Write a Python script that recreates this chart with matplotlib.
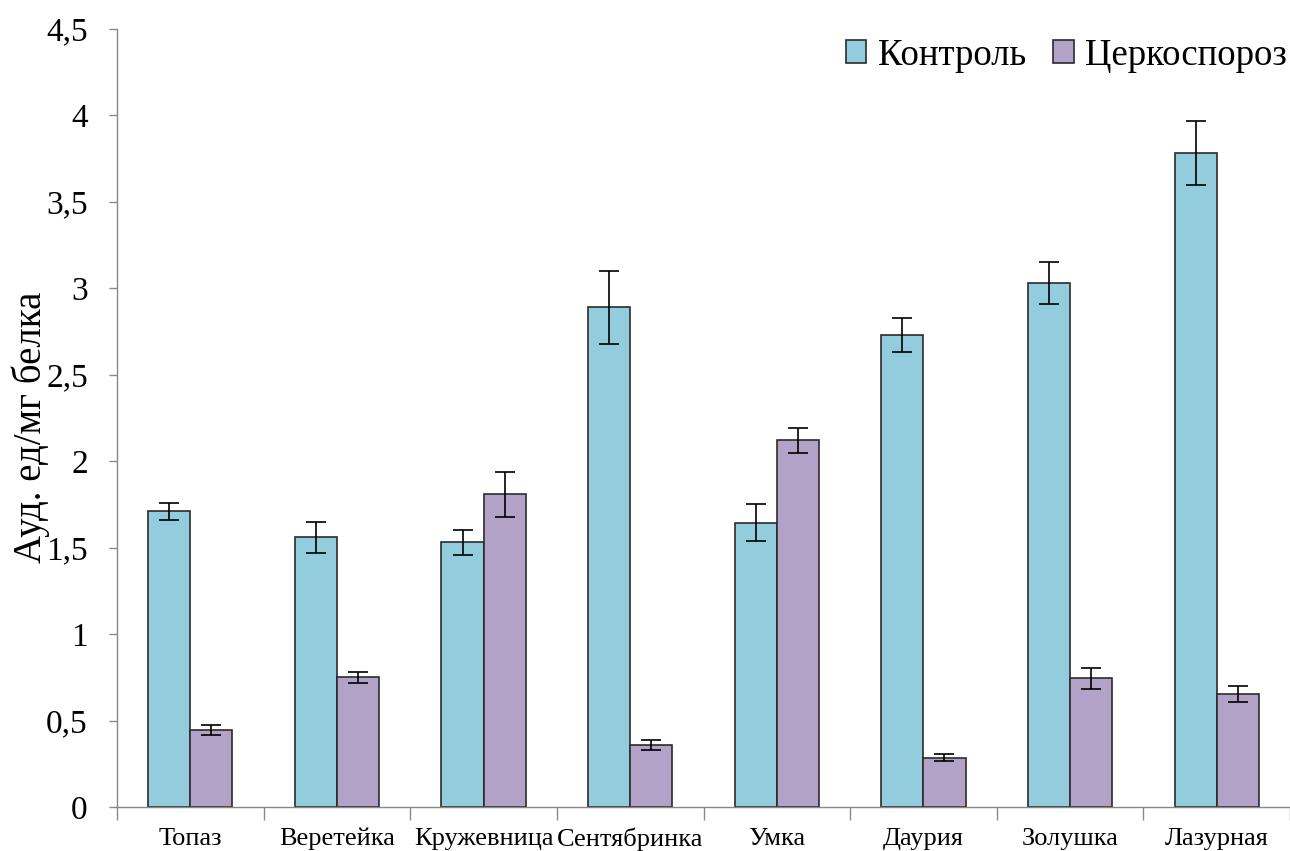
import matplotlib
matplotlib.use("Agg")
import matplotlib.pyplot as plt
import numpy as np

plt.rcParams["font.family"] = ["Liberation Serif", "DejaVu Serif"]

# Data
varieties = ["Топаз", "Веретейка", "Кружевница", "Сентябринка", "Умка",
             "Даурия", "Золушка", "Лазурная"]
control = [1.71, 1.56, 1.53, 2.89, 1.645, 2.73, 3.03, 3.78]
control_err = [0.05, 0.09, 0.075, 0.21, 0.105, 0.10, 0.12, 0.185]
disease = [0.445, 0.75, 1.81, 0.36, 2.12, 0.285, 0.745, 0.655]
disease_err = [0.03, 0.03, 0.13, 0.03, 0.07, 0.02, 0.06, 0.045]
yticks = [0, 0.5, 1, 1.5, 2, 2.5, 3, 3.5, 4, 4.5]

fig = plt.figure(figsize=(12.9, 8.51), dpi=100)
ax = fig.add_axes([117 / 1290, 1 - 807 / 851, 1 - 117 / 1290, (807 - 29) / 851])

x = np.arange(len(varieties))
w = 0.287
err_kw = dict(elinewidth=1.2, capthick=1.2, ecolor="black")
ax.bar(x - w / 2, control, w, yerr=control_err, capsize=7, color="#93CDDD",
       edgecolor="#2b2b2b", linewidth=1.2, error_kw=err_kw, label="Контроль")
ax.bar(x + w / 2, disease, w, yerr=disease_err, capsize=7, color="#B3A2C7",
       edgecolor="#2b2b2b", linewidth=1.2, error_kw=err_kw, label="Церкоспороз")

ax.set_xlim(-0.5, 7.5 - 13 / 148.3)
ax.set_ylim(0, 4.5)
ax.set_yticks(yticks)
ax.set_yticklabels([f"{v:g}".replace(".", ",") for v in yticks], fontsize=24)
ax.set_xticks(x)
ax.set_xticklabels(varieties, fontsize=19)
ax.set_xticks(np.arange(len(varieties) + 1) - 0.5, minor=True)
ax.tick_params(axis="x", which="major", length=0, pad=15)
ax.tick_params(axis="x", which="minor", length=9, color="#888888", width=1)
ax.tick_params(axis="y", length=6, color="#888888", width=1, pad=15)

for s in ["top", "right"]:
    ax.spines[s].set_visible(False)
for s in ["left", "bottom"]:
    ax.spines[s].set_color("#888888")
    ax.spines[s].set_linewidth(1)

ax.set_ylabel("Ауд. ед/мг белка", fontsize=28)
ax.yaxis.set_label_coords(-0.057, 0.488)

ax.legend(loc="upper right", bbox_to_anchor=(1.0165, 1.0165), ncol=2, frameon=False,
          fontsize=26.5, handlelength=0.57, handleheight=0.57, handletextpad=0.3,
          columnspacing=0.75, borderaxespad=0.2)

fig.savefig("out.png", dpi=100)
